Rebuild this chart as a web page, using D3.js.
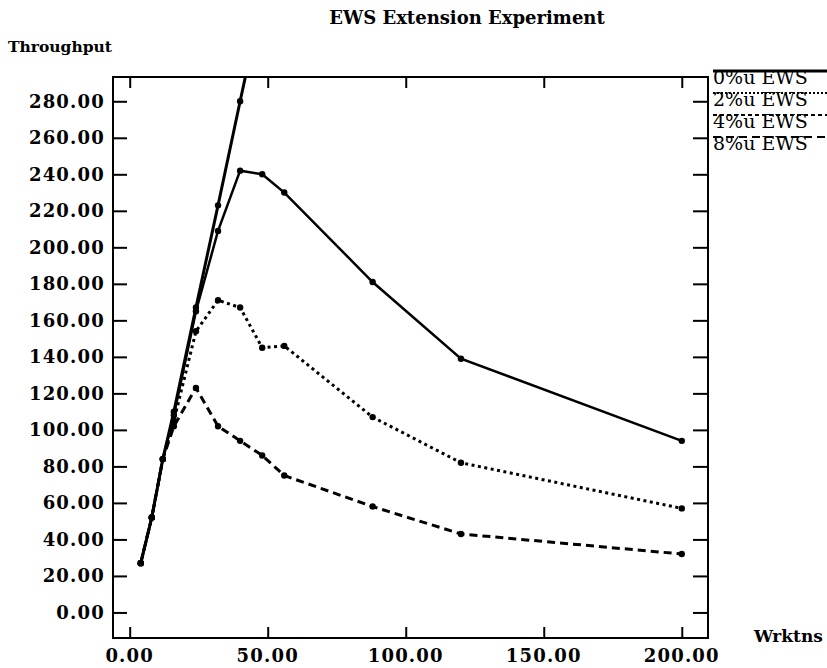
<!DOCTYPE html>
<html>
<head>
<meta charset="utf-8">
<script src="https://cdn.jsdelivr.net/npm/d3@7"></script>
<style>
  html, body { margin: 0; padding: 0; background: #fff; }
  svg text { font-family: "DejaVu Serif", "Liberation Serif", serif; fill: #000; }
</style>
</head>
<body>
<svg id="chart" width="827" height="668"></svg>
<script>
// ---- data ----
const workstations = [4, 8, 12, 16, 24, 32, 40, 48, 56, 88, 120, 200];
const ews0 = [27, 52, 84, 110, 167, 223, 280, 336];          // 0%u EWS (continues above chart)
const ews2 = [27, 52, 84, 108, 165, 209, 242, 240, 230, 181, 139, 94];
const ews4 = [27, 52, 84, 105, 154, 171, 167, 145, 146, 107, 82, 57];
const ews8 = [27, 52, 84, 102, 123, 102, 94, 86, 75, 58, 43, 32];
const seriesNames = ["0%u EWS", "2%u EWS", "4%u EWS", "8%u EWS"];
const xTicks = [0, 50, 100, 150, 200];
const yTicks = [0, 20, 40, 60, 80, 100, 120, 140, 160, 180, 200, 220, 240, 260, 280];

const svg = d3.select("#chart");
const pLeft = 113, pRight = 708, pTop = 77, pBottom = 638;

const x = d3.scaleLinear().domain([-6.05, 209.5]).range([pLeft, pRight]);
const y = d3.scaleLinear().domain([-14, 293.3]).range([pBottom, pTop]);

// clip
svg.append("defs").append("clipPath").attr("id", "plotclip")
  .append("rect").attr("x", pLeft).attr("y", pTop).attr("width", pRight - pLeft).attr("height", pBottom - pTop);

// frame
svg.append("rect").attr("x", pLeft).attr("y", pTop).attr("width", pRight - pLeft).attr("height", pBottom - pTop)
  .attr("fill", "none").attr("stroke", "#000").attr("stroke-width", 2);

const fmt = d3.format(".2f");

// left axis (ticks inward)
const yAxisL = svg.append("g").attr("transform", `translate(${pLeft},0)`)
  .call(d3.axisRight(y).tickValues(yTicks).tickSize(14).tickFormat(""));
yAxisL.select(".domain").remove();
yAxisL.selectAll("line").attr("stroke-width", 2);
svg.append("g").selectAll("text").data(yTicks).join("text")
  .attr("x", pLeft - 8).attr("y", d => y(d)).attr("dy", "0.35em")
  .attr("text-anchor", "end").attr("font-weight", "bold").attr("font-size", 18)
  .attr("letter-spacing", 1.2)
  .text(d => fmt(d));

// right axis (ticks inward)
const yAxisR = svg.append("g").attr("transform", `translate(${pRight},0)`)
  .call(d3.axisLeft(y).tickValues(yTicks).tickSize(15).tickFormat(""));
yAxisR.select(".domain").remove();
yAxisR.selectAll("line").attr("stroke-width", 2);

// bottom axis (ticks inward)
const xAxisB = svg.append("g").attr("transform", `translate(0,${pBottom})`)
  .call(d3.axisTop(x).tickValues(xTicks).tickSize(11).tickFormat(""));
xAxisB.select(".domain").remove();
xAxisB.selectAll("line").attr("stroke-width", 2);
svg.append("g").selectAll("text").data(xTicks).join("text")
  .attr("x", d => x(d)).attr("y", 662)
  .attr("text-anchor", "middle").attr("font-weight", "bold").attr("font-size", 18)
  .attr("letter-spacing", 1.2)
  .text(d => fmt(d));

// top axis (ticks inward)
const xAxisT = svg.append("g").attr("transform", `translate(0,${pTop})`)
  .call(d3.axisBottom(x).tickValues(xTicks).tickSize(11).tickFormat(""));
xAxisT.select(".domain").remove();
xAxisT.selectAll("line").attr("stroke-width", 2);

// titles
svg.append("text").attr("x", 467).attr("y", 24).attr("text-anchor", "middle")
  .attr("font-weight", "bold").attr("font-size", 18).text("EWS Extension Experiment");
svg.append("text").attr("x", 8).attr("y", 52)
  .attr("font-weight", "bold").attr("font-size", 15.5).text("Throughput");
svg.append("text").attr("x", 754).attr("y", 642)
  .attr("font-weight", "bold").attr("font-size", 17).text("Wrktns");

// series
const series = [
  { name: seriesNames[0], vals: ews0, dash: null, width: 3, legDash: null },
  { name: seriesNames[1], vals: ews2, dash: null, width: 2.5, legDash: "2,2" },
  { name: seriesNames[2], vals: ews4, dash: "3,3.5", width: 3, legDash: "4,3" },
  { name: seriesNames[3], vals: ews8, dash: "8,5", width: 3, legDash: "8,5" }
];

const line = d3.line().x(d => x(d[0])).y(d => y(d[1]));
const plot = svg.append("g").attr("clip-path", "url(#plotclip)");

series.forEach(s => {
  const pts = s.vals.map((v, i) => [workstations[i], v]);
  plot.append("path").datum(pts).attr("d", line)
    .attr("fill", "none").attr("stroke", "#000").attr("stroke-width", s.width)
    .attr("stroke-dasharray", s.dash);
  plot.selectAll(null).data(pts).join("circle")
    .attr("cx", d => x(d[0])).attr("cy", d => y(d[1])).attr("r", 3.2).attr("fill", "#000");
});

// legend
const legY = [77, 99, 121, 143];
const lg = svg.append("g");
series.forEach((s, i) => {
  lg.append("line").attr("x1", 713).attr("x2", 827)
    .attr("y1", legY[i] - 6).attr("y2", legY[i] - 6)
    .attr("stroke", "#000").attr("stroke-width", i === 0 ? 3 : 2)
    .attr("stroke-dasharray", s.legDash);
  lg.append("text").attr("x", 713).attr("y", legY[i] + 7)
    .attr("font-size", 19).text(s.name);
});
</script>
</body>
</html>
